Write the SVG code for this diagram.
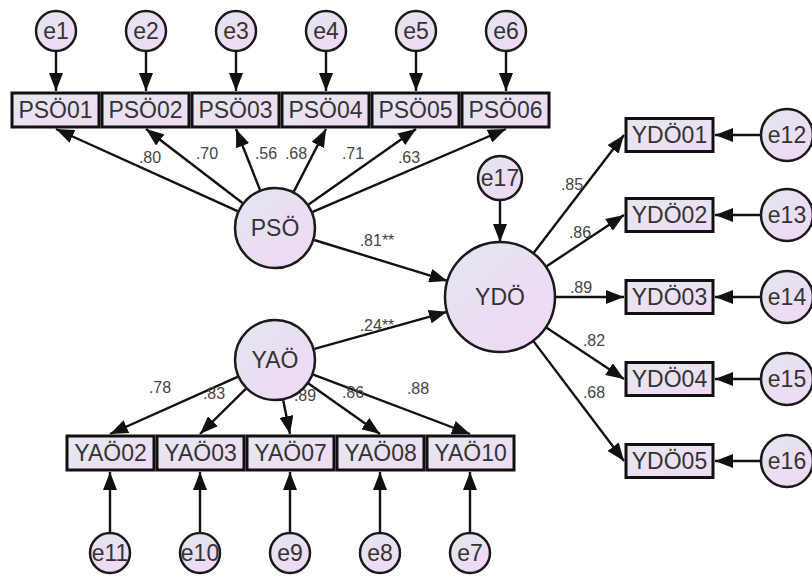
<svg xmlns="http://www.w3.org/2000/svg" width="812" height="585" viewBox="0 0 812 585">
<style>
.bg{fill:#ffffff}
.lat{fill:url(#g);stroke:#1a1a1a;stroke-width:2.5}
.err{fill:url(#g);stroke:#1a1a1a;stroke-width:2.5}
.box{fill:url(#gb);stroke:#111;stroke-width:3}
.t{font-family:"Liberation Sans",Arial,sans-serif;font-size:23px;fill:#333;text-anchor:middle;dominant-baseline:central}
.tb{font-family:"Liberation Sans",Arial,sans-serif;font-size:23px;fill:#333;text-anchor:middle;dominant-baseline:central}
.c{font-family:"Liberation Sans",Arial,sans-serif;font-size:16px;fill:#444;text-anchor:middle}
.a{stroke:#111;stroke-width:2.4;fill:none;marker-end:url(#ah)}
</style>
<defs>
<linearGradient id="g" x1="0" y1="0" x2="1" y2="1">
<stop offset="0" stop-color="#e3e6ef"/>
<stop offset="1" stop-color="#f1d7f5"/>
</linearGradient>
<linearGradient id="gb" x1="0" y1="0" x2="1" y2="1">
<stop offset="0" stop-color="#e5e8f0"/>
<stop offset="1" stop-color="#f0daf3"/>
</linearGradient>
<marker id="ah" viewBox="0 0 18 14" refX="18" refY="7" markerWidth="18" markerHeight="14" markerUnits="userSpaceOnUse" orient="auto">
<path d="M0,0 L18,7 L0,14 z" fill="#111"/>
</marker>
</defs>
<rect class="bg" x="0" y="0" width="812" height="585"/>

<g id="connectors">
<line class="a" x1="56" y1="51" x2="56" y2="91"/>
<line class="a" x1="146" y1="51" x2="146" y2="91"/>
<line class="a" x1="236" y1="51" x2="236" y2="91"/>
<line class="a" x1="326" y1="51" x2="326" y2="91"/>
<line class="a" x1="416" y1="51" x2="416" y2="91"/>
<line class="a" x1="506" y1="51" x2="506" y2="91"/>
<line class="a" x1="237.6" y1="211.1" x2="56" y2="129"/>
<line class="a" x1="242.5" y1="203" x2="146" y2="129"/>
<line class="a" x1="260" y1="189.9" x2="236" y2="129"/>
<line class="a" x1="293.8" y1="191.6" x2="326" y2="129"/>
<line class="a" x1="308.6" y1="204.4" x2="416" y2="129"/>
<line class="a" x1="312.7" y1="211.8" x2="506" y2="129"/>
<line class="a" x1="314.2" y1="240" x2="447.4" y2="280.9"/>
<line class="a" x1="314.5" y1="348.9" x2="447" y2="311.8"/>
<line class="a" x1="500" y1="200" x2="500" y2="242"/>
<line class="a" x1="533.4" y1="253.3" x2="624" y2="135"/>
<line class="a" x1="545.9" y1="266.7" x2="624" y2="215"/>
<line class="a" x1="555" y1="297" x2="624" y2="297"/>
<line class="a" x1="545.9" y1="327.3" x2="624" y2="379"/>
<line class="a" x1="533.2" y1="340.9" x2="624" y2="461"/>
<line class="a" x1="761" y1="135" x2="715" y2="135"/>
<line class="a" x1="761" y1="215" x2="715" y2="215"/>
<line class="a" x1="761" y1="297" x2="715" y2="297"/>
<line class="a" x1="761" y1="379" x2="715" y2="379"/>
<line class="a" x1="761" y1="461" x2="715" y2="461"/>
<line class="a" x1="237.6" y1="376.8" x2="110" y2="434"/>
<line class="a" x1="245.8" y1="388.8" x2="200" y2="434"/>
<line class="a" x1="283.2" y1="400.2" x2="290" y2="434"/>
<line class="a" x1="308.5" y1="383.6" x2="380" y2="434"/>
<line class="a" x1="313.3" y1="374.6" x2="470" y2="434"/>
<line class="a" x1="110" y1="533" x2="110" y2="472"/>
<line class="a" x1="200" y1="533" x2="200" y2="472"/>
<line class="a" x1="290" y1="533" x2="290" y2="472"/>
<line class="a" x1="380" y1="533" x2="380" y2="472"/>
<line class="a" x1="470" y1="533" x2="470" y2="472"/>
<text class="c" x="150" y="163">.80</text>
<text class="c" x="207" y="159">.70</text>
<text class="c" x="266" y="159">.56</text>
<text class="c" x="296" y="159">.68</text>
<text class="c" x="353" y="159">.71</text>
<text class="c" x="409" y="163">.63</text>
<text class="c" x="377" y="246">.81**</text>
<text class="c" x="377" y="331">.24**</text>
<text class="c" x="572" y="190">.85</text>
<text class="c" x="580" y="238">.86</text>
<text class="c" x="581" y="293">.89</text>
<text class="c" x="594" y="346">.82</text>
<text class="c" x="594" y="398">.68</text>
<text class="c" x="160" y="393">.78</text>
<text class="c" x="214" y="399">.83</text>
<text class="c" x="305" y="401">.89</text>
<text class="c" x="353" y="398">.86</text>
<text class="c" x="418" y="394">.88</text>
</g>

<g id="e1"><circle class="err" cx="56" cy="31" r="20"/><text class="t" x="56" y="31">e1</text></g>
<g id="e2"><circle class="err" cx="146" cy="31" r="20"/><text class="t" x="146" y="31">e2</text></g>
<g id="e3"><circle class="err" cx="236" cy="31" r="20"/><text class="t" x="236" y="31">e3</text></g>
<g id="e4"><circle class="err" cx="326" cy="31" r="20"/><text class="t" x="326" y="31">e4</text></g>
<g id="e5"><circle class="err" cx="416" cy="31" r="20"/><text class="t" x="416" y="31">e5</text></g>
<g id="e6"><circle class="err" cx="506" cy="31" r="20"/><text class="t" x="506" y="31">e6</text></g>

<g id="PSO01"><rect class="box" x="12" y="93" width="87" height="34"/><text class="tb" x="55.5" y="110">PSÖ01</text></g>
<g id="PSO02"><rect class="box" x="102" y="93" width="87" height="34"/><text class="tb" x="145.5" y="110">PSÖ02</text></g>
<g id="PSO03"><rect class="box" x="192" y="93" width="87" height="34"/><text class="tb" x="235.5" y="110">PSÖ03</text></g>
<g id="PSO04"><rect class="box" x="282" y="93" width="87" height="34"/><text class="tb" x="325.5" y="110">PSÖ04</text></g>
<g id="PSO05"><rect class="box" x="372" y="93" width="87" height="34"/><text class="tb" x="415.5" y="110">PSÖ05</text></g>
<g id="PSO06"><rect class="box" x="462" y="93" width="87" height="34"/><text class="tb" x="505.5" y="110">PSÖ06</text></g>

<g id="PSO"><circle class="lat" cx="275" cy="228" r="40"/><text class="t" x="275" y="228">PSÖ</text></g>
<g id="YAO"><circle class="lat" cx="275" cy="360" r="40"/><text class="t" x="275" y="360">YAÖ</text></g>
<g id="YDO"><circle class="lat" cx="500" cy="297" r="55"/><text class="t" x="500" y="297">YDÖ</text></g>
<g id="e17"><circle class="err" cx="500" cy="178" r="22"/><text class="t" x="500" y="178">e17</text></g>

<g id="YDO01"><rect class="box" x="626" y="118.5" width="87" height="33"/><text class="tb" x="669.5" y="135">YDÖ01</text></g>
<g id="YDO02"><rect class="box" x="626" y="198.5" width="87" height="33"/><text class="tb" x="669.5" y="215">YDÖ02</text></g>
<g id="YDO03"><rect class="box" x="626" y="280.5" width="87" height="33"/><text class="tb" x="669.5" y="297">YDÖ03</text></g>
<g id="YDO04"><rect class="box" x="626" y="362.5" width="87" height="33"/><text class="tb" x="669.5" y="379">YDÖ04</text></g>
<g id="YDO05"><rect class="box" x="626" y="444.5" width="87" height="33"/><text class="tb" x="669.5" y="461">YDÖ05</text></g>

<g id="e12"><circle class="err" cx="787" cy="135" r="26"/><text class="t" x="787" y="135">e12</text></g>
<g id="e13"><circle class="err" cx="787" cy="215" r="26"/><text class="t" x="787" y="215">e13</text></g>
<g id="e14"><circle class="err" cx="787" cy="297" r="26"/><text class="t" x="787" y="297">e14</text></g>
<g id="e15"><circle class="err" cx="787" cy="379" r="26"/><text class="t" x="787" y="379">e15</text></g>
<g id="e16"><circle class="err" cx="787" cy="461" r="26"/><text class="t" x="787" y="461">e16</text></g>

<g id="YAO02"><rect class="box" x="67" y="436" width="87" height="34"/><text class="tb" x="110.5" y="453">YAÖ02</text></g>
<g id="YAO03"><rect class="box" x="157" y="436" width="87" height="34"/><text class="tb" x="200.5" y="453">YAÖ03</text></g>
<g id="YAO07"><rect class="box" x="247" y="436" width="87" height="34"/><text class="tb" x="290.5" y="453">YAÖ07</text></g>
<g id="YAO08"><rect class="box" x="337" y="436" width="87" height="34"/><text class="tb" x="380.5" y="453">YAÖ08</text></g>
<g id="YAO10"><rect class="box" x="427" y="436" width="87" height="34"/><text class="tb" x="470.5" y="453">YAÖ10</text></g>

<g id="e11"><circle class="err" cx="110" cy="553" r="20"/><text class="t" x="110" y="553">e11</text></g>
<g id="e10"><circle class="err" cx="200" cy="553" r="20"/><text class="t" x="200" y="553">e10</text></g>
<g id="e9"><circle class="err" cx="290" cy="553" r="20"/><text class="t" x="290" y="553">e9</text></g>
<g id="e8"><circle class="err" cx="380" cy="553" r="20"/><text class="t" x="380" y="553">e8</text></g>
<g id="e7"><circle class="err" cx="470" cy="553" r="20"/><text class="t" x="470" y="553">e7</text></g>
</svg>
